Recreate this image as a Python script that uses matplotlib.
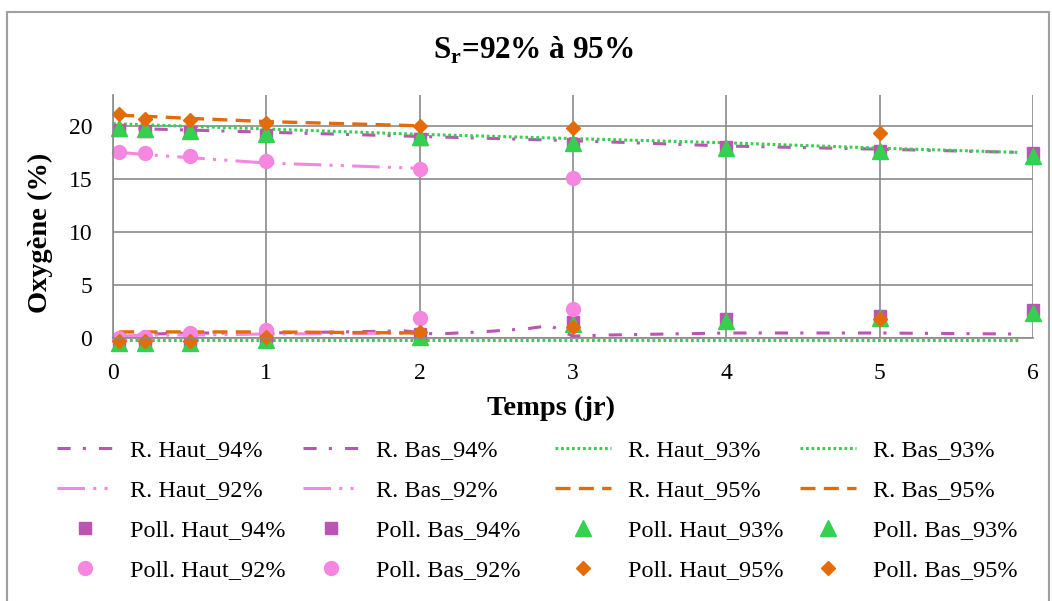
import numpy as np
import matplotlib.pyplot as plt
from matplotlib.patches import Rectangle

plt.rcParams["font.family"] = ["Liberation Serif", "DejaVu Serif"]

# ---- data ----
X_POLL = [0.04, 0.21, 0.5, 1, 2, 3, 4, 5, 6]
POLL_HAUT_94 = [19.6, 19.5, 19.4, 19.1, 18.8, 18.3, 18.0, 17.6, 17.4]
POLL_BAS_94 = [-0.3, -0.3, -0.3, -0.1, 0.4, 1.5, 1.8, 2.1, 2.7]
POLL_HAUT_93 = [19.8, 19.7, 19.5, 19.2, 18.9, 18.4, 17.9, 17.6, 17.2]
POLL_BAS_93 = [-0.4, -0.4, -0.4, -0.2, 0.1, 1.3, 1.6, 1.9, 2.4]
POLL_HAUT_92 = [17.5, 17.4, 17.2, 16.7, 15.9, 15.1, np.nan, np.nan, np.nan]
POLL_BAS_92 = [0.0, 0.15, 0.5, 0.8, 1.9, 2.8, np.nan, np.nan, np.nan]
POLL_HAUT_95 = [21.1, 20.6, 20.5, 20.3, 20.0, 19.8, np.nan, 19.3, np.nan]
POLL_BAS_95 = [-0.3, -0.3, -0.3, 0.1, 0.6, 1.1, np.nan, 1.8, np.nan]

X_R_94_HAUT = [0, 1, 2, 3, 4, 5, 5.9]
R_HAUT_94 = [19.8, 19.4, 19.0, 18.6, 18.1, 17.8, 17.5]
X_R_94_BAS = [0, 0.5, 1, 1.5, 1.9, 2.1, 2.4, 2.7, 2.85, 3.0, 3.2, 4, 5, 5.9]
R_BAS_94 = [0.3, 0.5, 0.5, 0.6, 0.7, 0.4, 0.6, 0.9, 1.2, 0.2, 0.3, 0.5, 0.5, 0.4]

X_R_93 = [0, 1, 2, 3, 4, 5, 5.9]
R_HAUT_93 = [20.2, 19.7, 19.2, 18.8, 18.4, 17.9, 17.5]
R_BAS_93 = [-0.15, -0.15, -0.15, -0.15, -0.15, -0.15, -0.15]

X_R_92 = [0.04, 0.21, 0.5, 1, 2]
R_HAUT_92 = [17.5, 17.3, 17.0, 16.5, 16.0]
R_BAS_92 = [0.2, 0.3, 0.3, 0.4, 0.5]

X_R_95 = [0.04, 0.21, 0.5, 1, 2]
R_HAUT_95 = [21.0, 20.9, 20.7, 20.4, 20.0]
R_BAS_95 = [0.6, 0.6, 0.6, 0.6, 0.5]

PURPLE = "#BB54B2"
GREEN = "#35D04F"
PINK = "#F587E1"
ORANGE = "#E36C09"
GRID = "#8A8A8A"

LS_94 = (0, (4.3, 4.0, 1.0, 4.3))
LS_93 = (0, (0.9, 0.9))
LS_92 = (0, (9.0, 2.7, 1.0, 2.7, 1.0, 2.7))
LS_95 = (0, (4.5, 2.5))

fig = plt.figure(figsize=(10.52, 6.01), dpi=100)
ax = fig.add_axes([113 / 1052, 1 - 338.3 / 601, 920 / 1052, (338.3 - 95) / 601])

lines = []
lines.append(ax.plot(X_R_94_HAUT, R_HAUT_94, color=PURPLE, lw=2.2, linestyle=LS_94, label="R. Haut_94%")[0])
lines.append(ax.plot(X_R_94_BAS, R_BAS_94, color=PURPLE, lw=2.2, linestyle=LS_94, label="R. Bas_94%")[0])
lines.append(ax.plot(X_R_93, R_HAUT_93, color=GREEN, lw=2.2, linestyle=LS_93, label="R. Haut_93%")[0])
lines.append(ax.plot(X_R_93, R_BAS_93, color=GREEN, lw=2.2, linestyle=LS_93, label="R. Bas_93%")[0])
lines.append(ax.plot(X_R_92, R_HAUT_92, color=PINK, lw=2.2, linestyle=LS_92, label="R. Haut_92%")[0])
lines.append(ax.plot(X_R_92, R_BAS_92, color=PINK, lw=2.2, linestyle=LS_92, label="R. Bas_92%")[0])
lines.append(ax.plot(X_R_95, R_HAUT_95, color=ORANGE, lw=2.4, linestyle=LS_95, label="R. Haut_95%")[0])
lines.append(ax.plot(X_R_95, R_BAS_95, color=ORANGE, lw=2.4, linestyle=LS_95, label="R. Bas_95%")[0])

marks = []
marks.append(ax.plot(X_POLL, POLL_HAUT_94, "s", color=PURPLE, ms=8, label="Poll. Haut_94%")[0])
marks.append(ax.plot(X_POLL, POLL_BAS_94, "s", color=PURPLE, ms=8, label="Poll. Bas_94%")[0])
marks.append(ax.plot(X_POLL, POLL_HAUT_93, "^", color=GREEN, ms=11, label="Poll. Haut_93%")[0])
marks.append(ax.plot(X_POLL, POLL_BAS_93, "^", color=GREEN, ms=11, label="Poll. Bas_93%")[0])
marks.append(ax.plot(X_POLL, POLL_HAUT_92, "o", color=PINK, ms=10, label="Poll. Haut_92%")[0])
marks.append(ax.plot(X_POLL, POLL_BAS_92, "o", color=PINK, ms=10, label="Poll. Bas_92%")[0])
marks.append(ax.plot(X_POLL, POLL_HAUT_95, "D", color=ORANGE, ms=7.5, label="Poll. Haut_95%")[0])
marks.append(ax.plot(X_POLL, POLL_BAS_95, "D", color=ORANGE, ms=7.5, label="Poll. Bas_95%")[0])

for ln in lines + marks:
    ln.set_clip_on(False)

ax.set_xlim(0, 6)
ax.set_ylim(0, 22.9)
ax.set_xticks(range(0, 7))
ax.set_yticks([0, 5, 10, 15, 20])
ax.grid(True, color=GRID, lw=1.2)
ax.set_axisbelow(True)
for s in ["top", "right"]:
    ax.spines[s].set_visible(False)
for s in ["left", "bottom"]:
    ax.spines[s].set_color(GRID)
    ax.spines[s].set_linewidth(1.2)
ax.tick_params(axis="both", length=0, labelsize=17)
ax.tick_params(axis="y", pad=15)
ax.tick_params(axis="x", pad=18)

fig.text(533 / 1052, 1 - 50 / 601, r"S$_\mathregular{r}$=92% à 95%", ha="center", va="center",
         fontsize=22.5, fontweight="bold")
fig.text(551 / 1052, 1 - 408 / 601, "Temps (jr)", ha="center", va="center",
         fontsize=20.5, fontweight="bold")
fig.text(40 / 1052, 1 - 233 / 601, "Oxygène (%)", ha="center", va="center",
         rotation=90, fontsize=20.5, fontweight="bold")

# legend: 4 columns, row-major like Excel
handles = lines + marks
col_x = [57, 303, 555, 800]
for c in range(4):
    hs = [handles[r * 4 + c] for r in range(4)]
    fig.legend(hs, [h.get_label() for h in hs], loc="upper left",
               bbox_to_anchor=(col_x[c] / 1052, 1 - 439 / 601),
               frameon=False, fontsize=17.5, borderpad=0, borderaxespad=0,
               handlelength=2.3, handletextpad=0.72, labelspacing=0.74,
               numpoints=1)

# outer chart frame
fig.patches.append(Rectangle((7 / 1052, -0.05), 1042 / 1052, 1.05 - 12 / 601,
                             transform=fig.transFigure, fill=False,
                             edgecolor="#A0A0A0", lw=1.5))

fig.savefig("out.png", dpi=100)
